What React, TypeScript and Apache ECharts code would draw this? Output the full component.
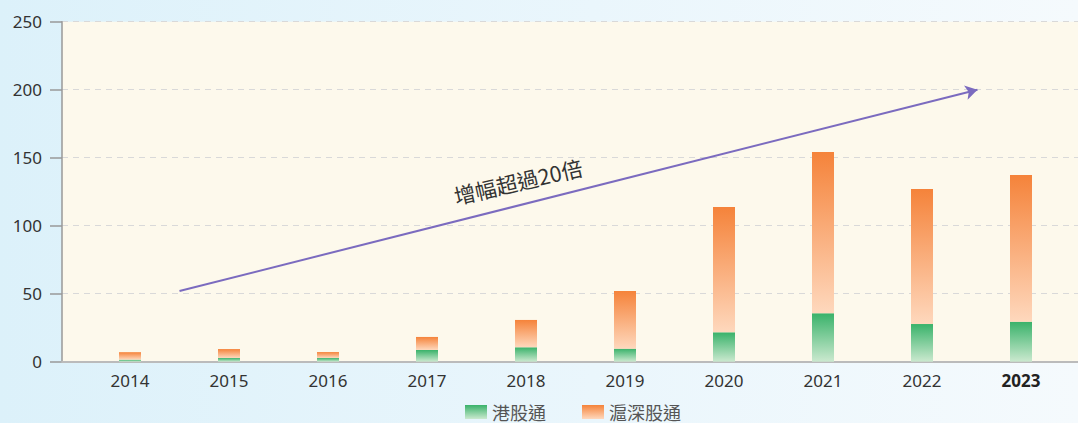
import React, { useEffect, useRef } from "react";
import * as echarts from "echarts";

const years = ["2014", "2015", "2016", "2017", "2018", "2019", "2020", "2021", "2022", "2023"];
const hkConnect = [1.5, 2.7, 2.7, 8.6, 10.6, 9.6, 21.6, 35.6, 27.7, 29.4];
const shszConnect = [5.5, 6.6, 4.4, 9.6, 20.1, 42.4, 92.1, 118.6, 99.3, 107.9];
const seriesNames = ["港股通", "滬深股通"];
const yMin = 0;
const yMax = 250;
const yInterval = 50;
const highlightYear = "2023";
const arrowStart = [0.5, 52];
const arrowEnd = [8.56, 200];
const annotationText = "增幅超過20倍";

const FONT = "'Noto Sans', 'Noto Sans CJK TC', sans-serif";
const CJK = "'Noto Sans CJK TC', 'Noto Sans', sans-serif";

export default function App() {
  const ref = useRef<HTMLDivElement>(null);
  useEffect(() => {
    document.body.style.margin = "0";
    if (!ref.current) return;
    const chart = echarts.init(ref.current, undefined, { renderer: "svg" });
    const green = new echarts.graphic.LinearGradient(0, 0, 0, 1, [
      { offset: 0, color: "#39b26a" },
      { offset: 1, color: "#cbe9cf" },
    ]);
    const orange = new echarts.graphic.LinearGradient(0, 0, 0, 1, [
      { offset: 0, color: "#f5833a" },
      { offset: 1, color: "#fed8bd" },
    ]);
    const top = 21.7;
    const bottom = 423 - 361.7;
    chart.setOption({
      animation: false,
      grid: [
        { left: 80.5, right: 7.5, top, bottom, show: false },
        { left: 62, right: 0, top, bottom, show: true, backgroundColor: "#fdf9ec", borderWidth: 0, z: -1 },
      ],
      legend: {
        data: seriesNames,
        left: 465,
        top: 403,
        padding: 0,
        itemWidth: 22,
        itemHeight: 14,
        itemGap: 36,
        icon: "rect",
        textStyle: { fontSize: 18, lineHeight: 18, color: "#555", fontFamily: CJK },
      },
      xAxis: [
        {
          type: "category",
          gridIndex: 0,
          data: years,
          axisLine: { show: false },
          axisTick: { show: false },
          axisLabel: {
            margin: 10,
            fontSize: 17,
            color: "#333",
            fontFamily: FONT,
            formatter: (v: string) => (v === highlightYear ? `{b|${v}}` : v),
            rich: { b: { fontWeight: "bold", color: "#222", fontSize: 17, fontFamily: FONT } },
          },
        },
        {
          type: "category",
          gridIndex: 1,
          data: years,
          axisLine: { show: true, lineStyle: { color: "#bbbbbb", width: 2 } },
          axisTick: { show: false },
          axisLabel: { show: false },
          z: 1,
        },
        {
          type: "value",
          gridIndex: 0,
          min: -0.5,
          max: years.length - 0.5,
          show: false,
        },
      ],
      yAxis: [
        { type: "value", gridIndex: 0, min: yMin, max: yMax, interval: yInterval, show: false },
        {
          type: "value",
          gridIndex: 1,
          min: yMin,
          max: yMax,
          interval: yInterval,
          axisLine: { show: true, lineStyle: { color: "#999", width: 1.5 } },
          axisTick: { show: true, length: 12, lineStyle: { color: "#999", width: 1.5 } },
          axisLabel: { margin: 20, fontSize: 17, color: "#333", fontFamily: FONT },
          splitLine: { show: true, lineStyle: { color: "#d9d9d9", type: [6, 5], width: 1 } },
        },
      ],
      series: [
        {
          name: seriesNames[0],
          type: "bar",
          stack: "total",
          xAxisIndex: 0,
          yAxisIndex: 0,
          barWidth: 22,
          data: hkConnect,
          itemStyle: { color: green },
        },
        {
          name: seriesNames[1],
          type: "bar",
          stack: "total",
          xAxisIndex: 0,
          yAxisIndex: 0,
          barWidth: 22,
          data: shszConnect,
          itemStyle: { color: orange },
        },
        {
          type: "line",
          xAxisIndex: 2,
          yAxisIndex: 0,
          data: [arrowStart, arrowEnd],
          symbol: "none",
          lineStyle: { opacity: 0 },
          silent: true,
          markLine: {
            silent: true,
            symbol: ["none", "arrow"],
            symbolSize: [11, 12],
            label: { show: false },
            lineStyle: { color: "#7b6bbf", width: 2, type: "solid" },
            data: [[{ coord: arrowStart }, { coord: arrowEnd }]],
          },
        },
      ],
      graphic: [
        {
          type: "text",
          x: 518,
          y: 181,
          rotation: (13 * Math.PI) / 180,
          style: {
            text: annotationText,
            fontSize: 21.5,
            fill: "#333",
            fontFamily: CJK,
            align: "center",
            verticalAlign: "middle",
          },
        },
      ],
    });
    return () => chart.dispose();
  }, []);
  return (
    <div
      ref={ref}
      style={{
        width: 1078,
        height: 423,
        background: "linear-gradient(90deg, #dcf1fa 0%, #eaf6fc 55%, #f5fafd 100%)",
      }}
    />
  );
}
